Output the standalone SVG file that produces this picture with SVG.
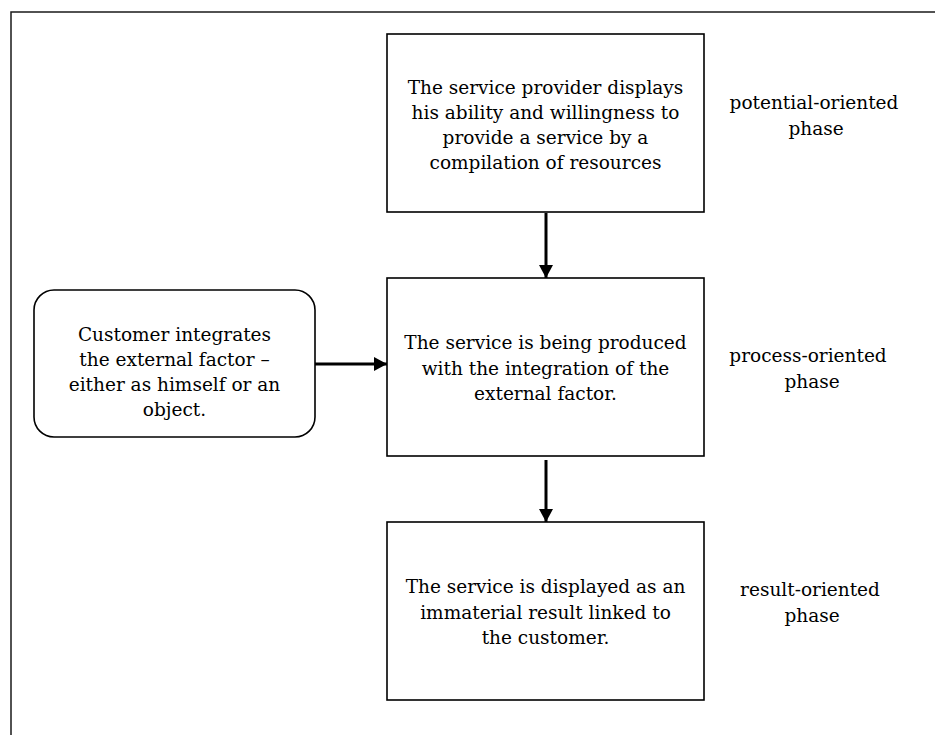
<svg xmlns="http://www.w3.org/2000/svg" width="935" height="735" viewBox="0 0 935 735">
  <style>
    .box { fill: #ffffff; stroke: #000000; stroke-width: 1.6; }
    .frame { fill: none; stroke: #1a1a1a; stroke-width: 1.5; }
    .txt { font-family: "DejaVu Serif", "Liberation Serif", serif; font-size: 18.5px; fill: #000000; text-anchor: middle; }
    .edge { stroke: #000000; stroke-width: 3; fill: none; }
  </style>
  <defs>
    <marker id="arrow" markerUnits="userSpaceOnUse" markerWidth="16" markerHeight="16" refX="13" refY="7" orient="auto">
      <path d="M0,0 L13,7 L0,14 Z" fill="#000000"/>
    </marker>
  </defs>

  <rect width="935" height="735" fill="#ffffff"/>
  <!-- outer frame, running off the right and bottom edges -->
  <rect class="frame" x="11" y="12" width="1000" height="1000"/>

  <g id="connectors">
    <line class="edge" x1="546" y1="213" x2="546" y2="278" marker-end="url(#arrow)"/>
    <line class="edge" x1="315" y1="364" x2="387" y2="364" marker-end="url(#arrow)"/>
    <line class="edge" x1="546" y1="460" x2="546" y2="522" marker-end="url(#arrow)"/>
  </g>

  <g id="potential">
    <rect class="box" x="387" y="34" width="317" height="178"/>
    <text class="txt" x="545.5" y="94">The service provider displays</text>
    <text class="txt" x="545.5" y="119">his ability and willingness to</text>
    <text class="txt" x="545.5" y="144">provide a service by a</text>
    <text class="txt" x="545.5" y="169">compilation of resources</text>
  </g>

  <g id="customer">
    <rect class="box" x="34" y="290" width="281" height="147" rx="20" ry="20"/>
    <text class="txt" x="174.5" y="341">Customer integrates</text>
    <text class="txt" x="174.5" y="366">the external factor –</text>
    <text class="txt" x="174.5" y="391">either as himself or an</text>
    <text class="txt" x="174.5" y="416">object.</text>
  </g>

  <g id="process">
    <rect class="box" x="387" y="278" width="317" height="178"/>
    <text class="txt" x="545.5" y="349">The service is being produced</text>
    <text class="txt" x="545.5" y="374.5">with the integration of the</text>
    <text class="txt" x="545.5" y="400">external factor.</text>
  </g>

  <g id="result">
    <rect class="box" x="387" y="522" width="317" height="178"/>
    <text class="txt" x="545.5" y="593">The service is displayed as an</text>
    <text class="txt" x="545.5" y="618.5">immaterial result linked to</text>
    <text class="txt" x="545.5" y="644">the customer.</text>
  </g>

  <g id="phase-labels">
    <text class="txt" x="814" y="109">potential-oriented</text>
    <text class="txt" x="816" y="135">phase</text>
    <text class="txt" x="808" y="362">process-oriented</text>
    <text class="txt" x="812" y="388">phase</text>
    <text class="txt" x="810" y="596">result-oriented</text>
    <text class="txt" x="812" y="622">phase</text>
  </g>
</svg>
